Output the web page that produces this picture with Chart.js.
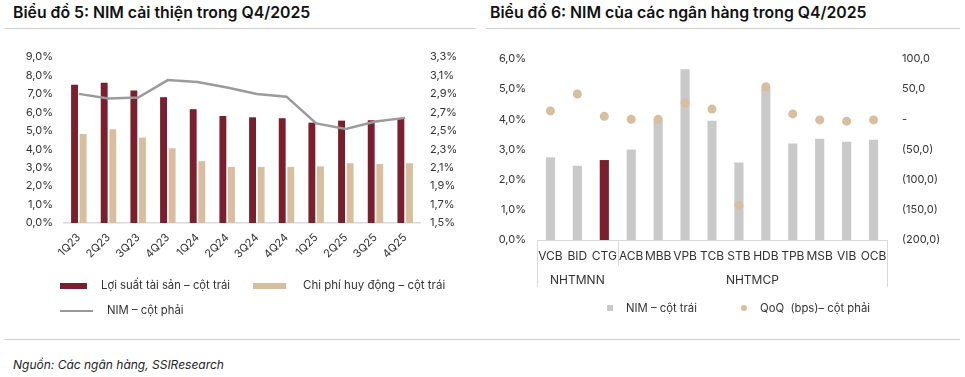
<!DOCTYPE html>
<html>
<head>
<meta charset="utf-8">
<script src="https://cdn.jsdelivr.net/npm/chart.js@4.4.1/dist/chart.umd.min.js"></script>
<style>
  html,body{margin:0;padding:0;background:#fff;}
  body{width:965px;height:377px;position:relative;overflow:hidden;font-family:Inter,"Noto Sans",sans-serif;color:#333;}
  .title{position:absolute;top:3px;font-size:15.8px;font-weight:600;color:#111;white-space:nowrap;}
  .hr{position:absolute;height:1px;background:#cfcfcf;}
  canvas{position:absolute;}
  .leg{position:absolute;font-size:11.3px;color:#333;white-space:nowrap;line-height:14px;}
  .sw{position:absolute;}
  .src{position:absolute;left:13px;top:357px;font-size:12px;font-style:italic;color:#222;}
</style>
</head>
<body>
<div class="title" style="left:13px;">Biểu đồ 5: NIM cải thiện trong Q4/2025</div>
<div class="title" style="left:490px;">Biểu đồ 6: NIM của các ngân hàng trong Q4/2025</div>
<div class="hr" style="left:4px;top:28px;width:472px;"></div>
<div class="hr" style="left:486px;top:28px;width:474px;"></div>
<div class="hr" style="left:4px;top:339px;width:956px;"></div>

<canvas id="c1" width="480" height="245" style="left:0;top:30px;width:480px;height:245px;"></canvas>
<canvas id="c2" width="485" height="270" style="left:480px;top:30px;width:485px;height:270px;"></canvas>

<div class="sw" style="left:60px;top:283px;width:27px;height:6px;background:#7A1F2D;"></div>
<div class="leg" style="left:101px;top:278px;">Lợi suất tài sản – cột trái</div>
<div class="sw" style="left:253px;top:283px;width:33px;height:6px;background:#D6BE9E;"></div>
<div class="leg" style="left:303px;top:278px;font-size:11.5px;">Chi phí huy động – cột trái</div>
<div class="sw" style="left:60px;top:310px;width:33px;height:2px;background:#999;"></div>
<div class="leg" style="left:107px;top:303px;">NIM – cột phải</div>

<div class="sw" style="left:607px;top:305px;width:6px;height:6px;background:#C9C9C9;"></div>
<div class="leg" style="left:626px;top:301px;">NIM – cột trái</div>
<div class="sw" style="left:741px;top:305px;width:6px;height:6px;border-radius:50%;background:#D6BE9E;"></div>
<div class="leg" style="left:760px;top:301px;">QoQ &nbsp;(bps)– cột phải</div>

<div class="src">Nguồn: Các ngân hàng, SSIResearch</div>

<script>
// ---------- Data: chart 5 ----------
const quarters = ["1Q23","2Q23","3Q23","4Q23","1Q24","2Q24","3Q24","4Q24","1Q25","2Q25","3Q25","4Q25"];
const assetYield = [7.50,7.61,7.18,6.82,6.17,5.80,5.73,5.68,5.44,5.55,5.57,5.64];
const fundingCost = [4.83,5.08,4.63,4.05,3.35,3.04,3.04,3.04,3.07,3.24,3.20,3.24];
const nimLine = [2.90,2.85,2.86,3.05,3.03,2.97,2.90,2.87,2.58,2.52,2.60,2.64];

// ---------- Data: chart 6 ----------
const banks = ["VCB","BID","CTG","ACB","MBB","VPB","TCB","STB","HDB","TPB","MSB","VIB","OCB"];
const bankNim = [2.74,2.46,2.65,3.00,3.97,5.66,3.95,2.57,5.02,3.20,3.36,3.26,3.32];
const bankQoQ = [14,42,5,0,0,27,17,-143,54,9,-1,-3,-1];
const groups = [{name:"NHTMNN", from:0, to:2},{name:"NHTMCP", from:3, to:12}];

const RED = "#7A1F2D", TAN = "#D6BE9E", GRAYBAR = "#C9C9C9", LINE = "#9B9B9B", AXIS = "#D9D9D9";
const tickFont = {family:"Inter, 'Noto Sans', sans-serif", size:11};
const fmt1 = v => v.toFixed(1).replace(".", ",");
const noGrid = {display:false, drawTicks:false};

Chart.defaults.devicePixelRatio = 1;
Chart.defaults.color = "#333";

// ---------- Chart 5 ----------
new Chart(document.getElementById("c1"), {
  data: {
    labels: quarters,
    datasets: [
      {type:"line", label:"NIM – cột phải", data:nimLine, yAxisID:"y2", borderColor:LINE, borderWidth:2.5,
       pointRadius:0, tension:0, order:0},
      {type:"bar", label:"Lợi suất tài sản – cột trái", data:assetYield, yAxisID:"y", backgroundColor:RED,
       categoryPercentage:0.58, barPercentage:0.8, order:1},
      {type:"bar", label:"Chi phí huy động – cột trái", data:fundingCost, yAxisID:"y", backgroundColor:TAN,
       categoryPercentage:0.58, barPercentage:0.8, order:1}
    ]
  },
  options: {
    responsive:false, animation:false,
    layout:{padding:{top:27,left:0,right:0,bottom:0}},
    plugins:{legend:{display:false}, tooltip:{enabled:false}},
    scales:{
      x:{grid:noGrid, border:{display:true,color:AXIS,width:1.5},
         ticks:{font:tickFont, minRotation:45, maxRotation:45, padding:8, color:"#333"},
         afterFit:s=>{s.height=52;}},
      y:{position:"left", min:0, max:9, grid:noGrid, border:{display:false},
         ticks:{stepSize:1, font:tickFont, padding:11, color:"#333", callback:v=>fmt1(v)+"%"},
         afterFit:s=>{s.width=64;}},
      y2:{position:"right", min:1.5, max:3.3, grid:noGrid, border:{display:false},
         ticks:{stepSize:0.2, font:tickFont, padding:10, color:"#333", callback:v=>fmt1(v)+"%"},
         afterFit:s=>{s.width=60;}}
    }
  }
});

// ---------- Chart 6 ----------
const groupPlugin = {
  id:"groupAxis",
  afterDraw(chart){
    const {ctx, chartArea, scales:{x}} = chart;
    const bottom = chartArea.bottom;
    const half = (x.getPixelForValue(1) - x.getPixelForValue(0))/2;
    ctx.save();
    ctx.strokeStyle = AXIS; ctx.lineWidth = 1;
    const lines = [[chartArea.left, 47]];
    groups.forEach((g,i)=>{
      const right = i===groups.length-1 ? chartArea.right : x.getPixelForValue(g.to)+half;
      lines.push([right, i===groups.length-1 ? 47 : 26]);
    });
    lines.forEach(([px,len])=>{
      ctx.beginPath(); ctx.moveTo(Math.round(px)+0.5, bottom); ctx.lineTo(Math.round(px)+0.5, bottom+len); ctx.stroke();
    });
    ctx.fillStyle = "#333";
    ctx.font = "12px Inter, 'Noto Sans', sans-serif";
    ctx.textAlign = "center"; ctx.textBaseline = "middle";
    groups.forEach(g=>{
      const cx = (x.getPixelForValue(g.from) + x.getPixelForValue(g.to))/2;
      ctx.fillText(g.name, cx, bottom+40);
    });
    ctx.restore();
  }
};

new Chart(document.getElementById("c2"), {
  data: {
    labels: banks,
    datasets: [
      {type:"line", label:"QoQ (bps)– cột phải", data:bankQoQ, yAxisID:"y2", showLine:false,
       pointRadius:4.5, pointBackgroundColor:TAN, pointBorderWidth:0, borderColor:TAN, order:0},
      {type:"bar", label:"NIM – cột trái", data:bankNim, yAxisID:"y",
       backgroundColor:banks.map(b=>b==="CTG"?RED:GRAYBAR), categoryPercentage:1, barPercentage:0.34, order:1}
    ]
  },
  options: {
    responsive:false, animation:false,
    layout:{padding:{top:29,left:0,right:0,bottom:0}},
    plugins:{legend:{display:false}, tooltip:{enabled:false}},
    scales:{
      x:{grid:noGrid, border:{display:true,color:AXIS,width:1},
         ticks:{font:{family:tickFont.family, size:12}, maxRotation:0, minRotation:0, padding:9, color:"#333", autoSkip:false},
         afterFit:s=>{s.height=60;}},
      y:{position:"left", min:0, max:6, grid:noGrid, border:{display:false},
         ticks:{stepSize:1, font:tickFont, padding:11, color:"#333", callback:v=>fmt1(v)+"%"},
         afterFit:s=>{s.width=57;}},
      y2:{position:"right", min:-200, max:100, grid:noGrid, border:{display:false},
         ticks:{stepSize:50, font:tickFont, padding:15, color:"#333",
           callback:v=> v===0 ? "-" : (v<0 ? "("+fmt1(-v)+")" : fmt1(v))},
         afterFit:s=>{s.width=78;}}
    }
  },
  plugins:[groupPlugin]
});
</script>
</body>
</html>
